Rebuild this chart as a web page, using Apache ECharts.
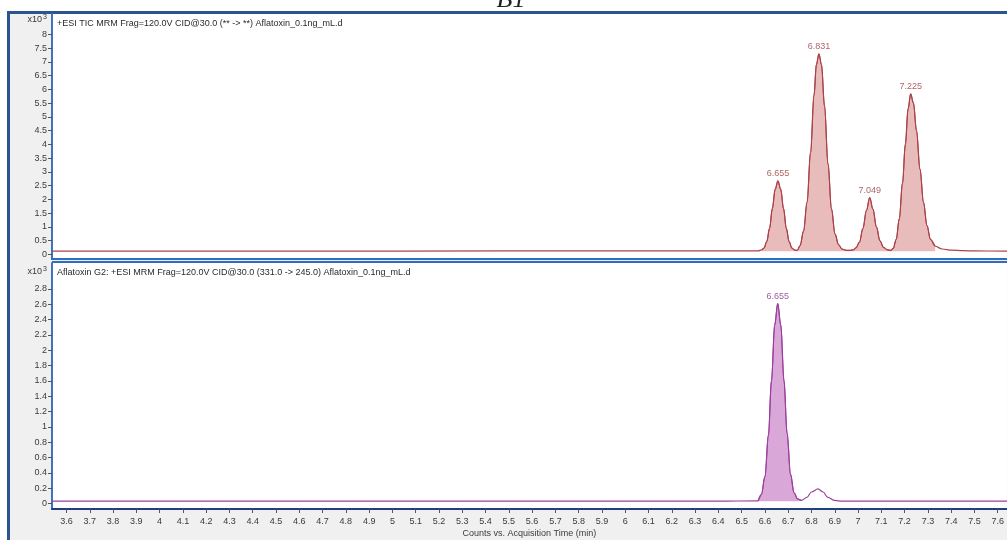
<!DOCTYPE html>
<html>
<head>
<meta charset="utf-8">
<script src="https://cdn.jsdelivr.net/npm/echarts@6.0.0/dist/echarts.min.js"></script>
<style>
  html, body { margin: 0; padding: 0; background: #ffffff; }
  #wrap { position: relative; width: 1007px; height: 540px; overflow: hidden; }
  #frame { position: absolute; left: 7px; top: 11px; right: 0; bottom: 0;
           background: #f0f0f0; border-top: 3px solid #2b5590; border-left: 3px solid #2b5590; }
  #chart { position: absolute; left: 0; top: 0; width: 1007px; height: 540px; }
</style>
</head>
<body>
<div id="wrap"><div id="frame"></div><div id="chart"></div></div>
<script>
// Acquisition time ticks (min)
const xTicks = [3.6, 3.7, 3.8, 3.9, 4, 4.1, 4.2, 4.3, 4.4, 4.5, 4.6, 4.7, 4.8, 4.9, 5,
  5.1, 5.2, 5.3, 5.4, 5.5, 5.6, 5.7, 5.8, 5.9, 6, 6.1, 6.2, 6.3, 6.4, 6.5, 6.6, 6.7,
  6.8, 6.9, 7, 7.1, 7.2, 7.3, 7.4, 7.5, 7.6];
// Count ticks (x10^3)
const ticYTicks = [0, 0.5, 1, 1.5, 2, 2.5, 3, 3.5, 4, 4.5, 5, 5.5, 6, 6.5, 7, 7.5, 8];
const g2YTicks = [0, 0.2, 0.4, 0.6, 0.8, 1, 1.2, 1.4, 1.6, 1.8, 2, 2.2, 2.4, 2.6, 2.8];

// TIC trace: [time (min), counts x10^3]
const ticPoints = [
  [3.54, 0.12], [4.5, 0.12], [5.5, 0.13], [6.3, 0.13], [6.57, 0.13],
  [6.585, 0.17], [6.595, 0.23], [6.607, 0.47], [6.619, 0.95], [6.631, 1.67], [6.643, 2.37],
  [6.655, 2.68], [6.667, 2.37], [6.679, 1.67], [6.691, 0.95], [6.703, 0.47], [6.715, 0.23],
  [6.727, 0.16], [6.738, 0.15],
  [6.75, 0.32], [6.765, 0.85], [6.78, 1.9], [6.795, 3.7], [6.81, 5.8], [6.82, 6.9],
  [6.831, 7.3], [6.842, 6.9], [6.855, 5.4], [6.87, 3.3], [6.885, 1.65], [6.9, 0.75],
  [6.915, 0.36], [6.93, 0.2], [6.95, 0.15], [6.965, 0.15],
  [6.978, 0.17], [6.99, 0.24], [7.005, 0.45], [7.02, 0.95], [7.035, 1.6], [7.049, 2.07],
  [7.063, 1.65], [7.078, 1.0], [7.093, 0.5], [7.108, 0.26], [7.125, 0.17], [7.14, 0.15],
  [7.15, 0.22], [7.163, 0.55], [7.176, 1.3], [7.19, 2.6], [7.202, 4.0], [7.214, 5.3],
  [7.225, 5.84], [7.237, 5.5], [7.25, 4.5], [7.265, 3.1], [7.28, 1.9], [7.295, 1.05],
  [7.31, 0.55], [7.33, 0.3], [7.36, 0.2], [7.4, 0.16], [7.45, 0.14], [7.5, 0.13], [7.64, 0.12]
];
const ticPeaks = [[6.655, 2.68], [6.831, 7.3], [7.049, 2.07], [7.225, 5.84]];
const ticFillRange = [6.585, 7.33];
const ticBaseline = 0.12;

// Aflatoxin G2 MRM trace (331.0 -> 245.0)
const g2Points = [
  [3.54, 0.03], [4.5, 0.03], [5.5, 0.03], [6.4, 0.03], [6.57, 0.035],
  [6.585, 0.12], [6.6, 0.35], [6.615, 0.89], [6.628, 1.6], [6.642, 2.33],
  [6.655, 2.61], [6.668, 2.33], [6.682, 1.6], [6.695, 0.92], [6.71, 0.38],
  [6.725, 0.14], [6.74, 0.06], [6.757, 0.04],
  [6.78, 0.08], [6.8, 0.15], [6.828, 0.19], [6.85, 0.15], [6.87, 0.08], [6.9, 0.04],
  [6.93, 0.03], [7.3, 0.03], [7.64, 0.03]
];
const g2Peaks = [[6.655, 2.61]];
const g2FillRange = [6.57, 6.757];
const g2Baseline = 0.03;

const ticHeader = '+ESI TIC MRM Frag=120.0V CID@30.0 (** -> **) Aflatoxin_0.1ng_mL.d';
const g2Header = 'Aflatoxin G2: +ESI MRM Frag=120.0V CID@30.0 (331.0 -> 245.0) Aflatoxin_0.1ng_mL.d';
const xTitle = 'Counts vs. Acquisition Time (min)';
const panelTag = 'B1';

const FONT = 'Liberation Sans, Arial, sans-serif';
const TIC_LINE = '#a9424a', TIC_FILL = '#e9bcbc', TIC_TEXT = '#9c3a3f';
const G2_LINE = '#9c3f9c', G2_FILL = '#d9a8d9', G2_TEXT = '#7e347e';

const inRange = (pts, r) => pts.filter(p => p[0] >= r[0] && p[0] <= r[1]);

function yAxisFor(gridIndex, min, max, ticks) {
  return {
    type: 'value', gridIndex, min, max,
    splitLine: { show: false },
    axisLine: { show: true, onZero: false, lineStyle: { color: '#3f74bd', width: 2 } },
    axisTick: { show: true, length: 4, customValues: ticks, lineStyle: { color: '#555' } },
    axisLabel: { show: true, customValues: ticks, fontSize: 9, color: '#3a3a3a', fontFamily: FONT, margin: 5 }
  };
}

function traceSeries(idx, pts, color) {
  return {
    type: 'line', xAxisIndex: idx, yAxisIndex: idx, data: pts,
    symbol: 'none', smooth: 0.35, smoothMonotone: 'x', silent: true,
    lineStyle: { color, width: 1.2 }, z: 3
  };
}
function fillSeries(idx, pts, range, base, color, edge) {
  return {
    type: 'line', xAxisIndex: idx, yAxisIndex: idx, data: inRange(pts, range),
    symbol: 'none', smooth: 0.35, smoothMonotone: 'x', silent: true,
    lineStyle: { color: edge, width: 1 },
    areaStyle: { color, opacity: 1, origin: base }, z: 2
  };
}
function peakLabels(idx, peaks, color) {
  return {
    type: 'scatter', xAxisIndex: idx, yAxisIndex: idx, data: peaks,
    symbolSize: 1, itemStyle: { color: 'rgba(0,0,0,0)' }, silent: true, z: 4,
    label: { show: true, position: 'top', distance: 2, color, fontSize: 9, fontFamily: FONT,
             formatter: p => p.value[0].toFixed(3) }
  };
}

const chart = echarts.init(document.getElementById('chart'), null, { renderer: 'canvas' });
chart.setOption({
  backgroundColor: 'transparent',
  animation: false,
  grid: [
    { left: 52, top: 14, width: 955, height: 245, show: true, backgroundColor: '#ffffff', borderWidth: 0 },
    { left: 52, top: 263, width: 955, height: 246, show: true, backgroundColor: '#ffffff', borderWidth: 0 }
  ],
  xAxis: [
    { type: 'value', gridIndex: 0, min: 3.5378, max: 7.6386,
      splitLine: { show: false },
      axisLine: { show: true, onZero: false, lineStyle: { color: '#2f6bbf', width: 2 } },
      axisTick: { show: false }, axisLabel: { show: false } },
    { type: 'value', gridIndex: 1, min: 3.5378, max: 7.6386,
      splitLine: { show: false },
      axisLine: { show: true, onZero: false, lineStyle: { color: '#1f3f80', width: 2 } },
      axisTick: { show: true, length: 4, customValues: xTicks, lineStyle: { color: '#555' } },
      axisLabel: { show: true, customValues: xTicks, fontSize: 9, color: '#3a3a3a', fontFamily: FONT, margin: 8 },
      name: xTitle, nameLocation: 'middle', nameGap: 20,
      nameTextStyle: { fontSize: 9, color: '#3a3a3a', fontFamily: FONT } }
  ],
  yAxis: [
    yAxisFor(0, -0.164, 8.745, ticYTicks),
    yAxisFor(1, -0.072, 3.139, g2YTicks)
  ],
  series: [
    fillSeries(0, ticPoints, ticFillRange, ticBaseline, TIC_FILL, TIC_LINE),
    traceSeries(0, ticPoints, TIC_LINE),
    peakLabels(0, ticPeaks, TIC_TEXT),
    fillSeries(1, g2Points, g2FillRange, g2Baseline, G2_FILL, G2_LINE),
    traceSeries(1, g2Points, G2_LINE),
    peakLabels(1, g2Peaks, G2_TEXT)
  ],
  graphic: [
    { type: 'rect', shape: { x: 52, y: 261, width: 955, height: 2 }, style: { fill: '#2f6bbf' }, silent: true },
    { type: 'text', x: 57, y: 24, silent: true,
      style: { text: ticHeader, fontSize: 9, fontFamily: FONT, fill: '#2a2a2a', verticalAlign: 'middle' } },
    { type: 'text', x: 57, y: 273, silent: true,
      style: { text: g2Header, fontSize: 9, fontFamily: FONT, fill: '#2a2a2a', verticalAlign: 'middle' } },
    { type: 'text', x: 47, y: 20, silent: true,
      style: { text: 'x10{s|3}', fontSize: 9, fontFamily: FONT, fill: '#3a3a3a', align: 'right', verticalAlign: 'middle',
               rich: { s: { fontSize: 7, fontFamily: FONT, fill: '#3a3a3a', padding: [0, 0, 5, 1] } } } },
    { type: 'text', x: 47, y: 272, silent: true,
      style: { text: 'x10{s|3}', fontSize: 9, fontFamily: FONT, fill: '#3a3a3a', align: 'right', verticalAlign: 'middle',
               rich: { s: { fontSize: 7, fontFamily: FONT, fill: '#3a3a3a', padding: [0, 0, 5, 1] } } } },
    { type: 'text', x: 511, y: 13, silent: true, z: -1,
      style: { text: panelTag, fontSize: 26, fontFamily: 'Liberation Serif, DejaVu Serif, serif', fill: '#222',
               align: 'center', verticalAlign: 'bottom', fontStyle: 'italic' } }
  ]
});
</script>
</body>
</html>
